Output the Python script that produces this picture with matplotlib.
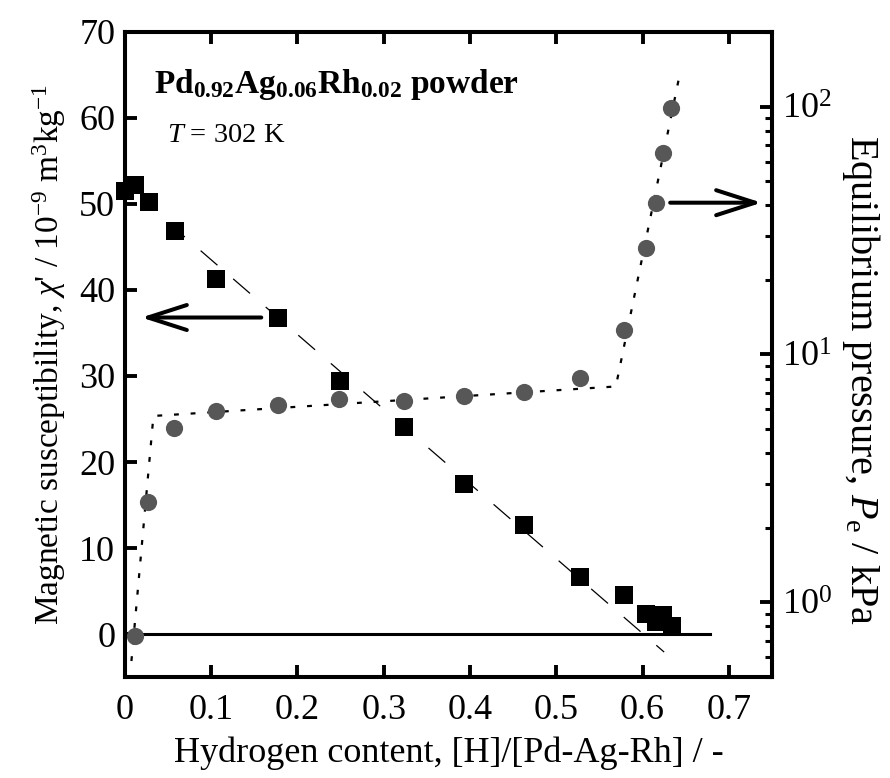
import matplotlib
matplotlib.use('Agg')
import matplotlib.pyplot as plt
from matplotlib.ticker import LogLocator, NullFormatter

plt.rcParams['font.family'] = ['Liberation Serif', 'DejaVu Serif']
plt.rcParams['mathtext.fontset'] = 'custom'
plt.rcParams['mathtext.rm'] = 'Liberation Serif'
plt.rcParams['mathtext.it'] = 'Liberation Serif:italic'
plt.rcParams['mathtext.bf'] = 'Liberation Serif:bold'
plt.rcParams['lines.scale_dashes'] = False

# susceptibility (squares, left axis)
h_chi = [0.0, 0.012, 0.028, 0.058, 0.105, 0.177, 0.249, 0.323, 0.393,
         0.463, 0.528, 0.578, 0.604, 0.615, 0.624, 0.634]
chi = [51.5, 52.2, 50.2, 46.9, 41.3, 36.8, 29.4, 24.1, 17.5,
       12.7, 6.6, 4.5, 2.35, 1.35, 2.2, 0.95]

# equilibrium pressure (circles, right axis, kPa)
h_p = [0.0116, 0.027, 0.057, 0.105, 0.177, 0.248, 0.323, 0.393, 0.462,
       0.528, 0.578, 0.6035, 0.615, 0.624, 0.633]
pe = [0.73, 2.55, 5.06, 5.93, 6.25, 6.62, 6.52, 6.81, 7.04,
      8.02, 12.6, 26.8, 40.8, 64.9, 98.5]

# guide lines
fit_h = [0.05, 0.625]
fit_chi = [47.85, -2.1]
guide_h = [0.0075, 0.033, 0.569, 0.644]
guide_p = [0.58, 5.65, 7.43, 140]
zero_h = [0.0, 0.678]
zero_chi = [0, 0]

x_ticks = [0, 0.1, 0.2, 0.3, 0.4, 0.5, 0.6, 0.7]
x_labels = ['0', '0.1', '0.2', '0.3', '0.4', '0.5', '0.6', '0.7']
y_ticks = [0, 10, 20, 30, 40, 50, 60, 70]

fig = plt.figure(figsize=(8.9, 7.78), dpi=100)
ax = fig.add_axes([0.1404, 0.1298, 0.727, 0.8291])
ax2 = ax.twinx()

fs = 26
ax.plot(zero_h, zero_chi, color='black', lw=2.2, zorder=2)
ax.plot(fit_h, fit_chi, color='black', lw=0.9, linestyle=(0, (16, 15)), zorder=2)
ax.plot(h_chi, chi, 's', color='black', ms=12.6, mew=0, zorder=4, clip_on=False)

ax2.plot(guide_h, guide_p, color='black', lw=1.6, linestyle=(0, (3.5, 8.5)))
ax2.plot(h_p, pe, 'o', color='#575757', ms=12.4, mew=0, clip_on=False)

ax.set_xlim(0, 0.75)
ax.set_ylim(-5, 70)
ax2.set_yscale('log')
ax2.set_ylim(0.5, 200)

ax.set_xticks(x_ticks)
ax.set_xticklabels(x_labels)
ax.set_yticks(y_ticks)
ax.tick_params(axis='both', direction='in', length=8.6, width=2.8, labelsize=fs,
               top=True, right=False)
ax.tick_params(axis='x', pad=12)
ax.tick_params(axis='y', pad=7)

ax2.yaxis.set_major_locator(LogLocator(base=10))
ax2.yaxis.set_minor_locator(LogLocator(base=10, subs=range(2, 10)))
ax2.yaxis.set_minor_formatter(NullFormatter())
ax2.tick_params(axis='y', which='major', direction='in', length=8.6, width=2.8,
                labelsize=fs, pad=7)
ax2.tick_params(axis='y', which='minor', direction='in', length=5, width=2.2)

for a in (ax, ax2):
    for s in a.spines.values():
        s.set_linewidth(2.9)

ax.set_xlabel('Hydrogen content, [H]/[Pd-Ag-Rh] / -', fontsize=fs, labelpad=7)
ax.set_ylabel(r"Magnetic susceptibility, $\it{\chi}$' / 10$^{-9}$ m$^{3}$kg$^{-1}$",
              fontsize=24, labelpad=8)
ax2.set_ylabel(r'Equilibrium pressure, $\it{P}_{\rm e}$ / kPa', fontsize=29,
               rotation=270, va='center', ha='center')
ax2.yaxis.set_label_coords(1.137, 0.46)

ax.text(0.045, 0.905, r'Pd$_{\mathbf{0.92}}$Ag$_{\mathbf{0.06}}$Rh$_{\mathbf{0.02}}$ powder',
        transform=ax.transAxes, fontsize=24, fontweight='bold')
ax.text(0.065, 0.83, r'$\it{T}$ = 302 K', transform=ax.transAxes, fontsize=20.5)

arrow = dict(arrowstyle='->, head_length=1.4, head_width=0.45', lw=2.9,
             color='black', shrinkA=0, shrinkB=0, mutation_scale=20)
ax.annotate('', xy=(0.019, 36.8), xytext=(0.158, 36.8), arrowprops=arrow)
ax.annotate('', xy=(0.738, 50.15), xytext=(0.632, 50.15), arrowprops=arrow)

fig.savefig('out.png', dpi=100)
